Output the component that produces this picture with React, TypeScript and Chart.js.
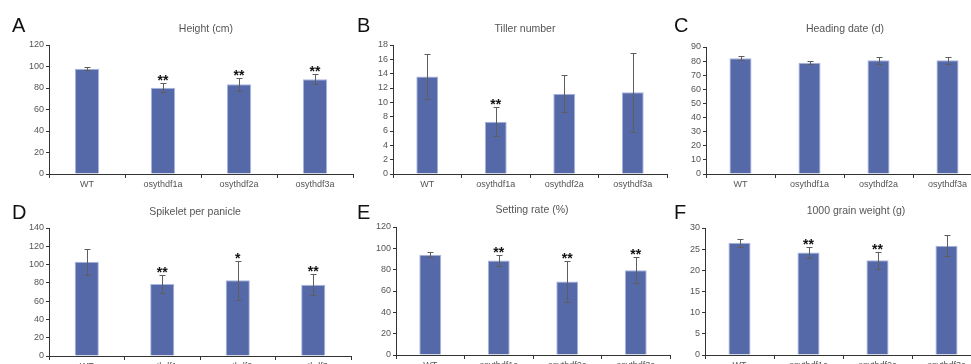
import React, { useEffect, useRef } from "react";
import { Chart, registerables } from "chart.js";

Chart.register(...registerables);

const categories = ["WT", "osythdf1a", "osythdf2a", "osythdf3a"];

const heightMean = [98, 80.3, 83.5, 88.2];
const heightErr = [1.4, 4, 6.2, 4.5];
const heightSig = ["", "**", "**", "**"];

const tillerMean = [13.6, 7.3, 11.2, 11.4];
const tillerErr = [3.1, 2, 2.55, 5.5];
const tillerSig = ["", "**", "", ""];

const headingMean = [82, 78.9, 80.6, 80.6];
const headingErr = [1.5, 1, 2.4, 2.4];
const headingSig = ["", "", "", ""];

const spikeletMean = [103, 78.8, 82.8, 78];
const spikeletErr = [14.3, 9.5, 21.6, 11.5];
const spikeletSig = ["", "**", "*", "**"];

const settingMean = [94.1, 88.5, 68.9, 79.5];
const settingErr = [2, 5.1, 19.5, 12];
const settingSig = ["", "**", "**", "**"];

const grainMean = [26.5, 24.2, 22.4, 25.8];
const grainErr = [0.9, 1.2, 2, 2.5];
const grainSig = ["", "**", "**", ""];

type Panel = {
  letter: string;
  title: string;
  values: number[];
  errors: number[];
  sig: string[];
  yMax: number;
  step: number;
  axisX: number;
  axisEnd: number;
  topY: number;
  zeroY: number;
  rowTop: number;
  rowBottom: number;
  titleX: number;
  titleY: number;
  letterX: number;
  letterY: number;
};

const panels: Panel[] = [
  { letter: "A", title: "Height (cm)", values: heightMean, errors: heightErr, sig: heightSig, yMax: 120, step: 20,
    axisX: 49, axisEnd: 353, topY: 45, zeroY: 174, rowTop: 0, rowBottom: 195, titleX: 206, titleY: 28, letterX: 12, letterY: 25 },
  { letter: "B", title: "Tiller number", values: tillerMean, errors: tillerErr, sig: tillerSig, yMax: 18, step: 2,
    axisX: 393, axisEnd: 667, topY: 45, zeroY: 174, rowTop: 0, rowBottom: 195, titleX: 525, titleY: 28, letterX: 357, letterY: 25 },
  { letter: "C", title: "Heading date (d)", values: headingMean, errors: headingErr, sig: headingSig, yMax: 90, step: 10,
    axisX: 706, axisEnd: 982, topY: 47, zeroY: 174, rowTop: 0, rowBottom: 195, titleX: 845, titleY: 28, letterX: 674, letterY: 25 },
  { letter: "D", title: "Spikelet per panicle", values: spikeletMean, errors: spikeletErr, sig: spikeletSig, yMax: 140, step: 20,
    axisX: 49, axisEnd: 351, topY: 228, zeroY: 356, rowTop: 190, rowBottom: 385, titleX: 195, titleY: 211, letterX: 12, letterY: 212 },
  { letter: "E", title: "Setting rate (%)", values: settingMean, errors: settingErr, sig: settingSig, yMax: 120, step: 20,
    axisX: 396, axisEnd: 670, topY: 227, zeroY: 355, rowTop: 190, rowBottom: 385, titleX: 532, titleY: 209, letterX: 357, letterY: 212 },
  { letter: "F", title: "1000 grain weight (g)", values: grainMean, errors: grainErr, sig: grainSig, yMax: 30, step: 5,
    axisX: 705, axisEnd: 981, topY: 228, zeroY: 355, rowTop: 190, rowBottom: 385, titleX: 856, titleY: 210, letterX: 674, letterY: 212 },
];

const errorBarPlugin = {
  id: "errorBars",
  afterDatasetsDraw(chart: any, _args: any, opts: any) {
    const { ctx } = chart;
    const meta = chart.getDatasetMeta(0);
    const ys = chart.scales.y;
    const data = chart.data.datasets[0].data as number[];
    const errs: number[] = opts.errors || [];
    const sig: string[] = opts.sig || [];
    ctx.save();
    meta.data.forEach((bar: any, i: number) => {
      const v = data[i];
      const e = errs[i] || 0;
      const x = Math.round(bar.x) + 0.5;
      const yTop = Math.round(ys.getPixelForValue(v + e)) + 0.5;
      const yBot = Math.round(ys.getPixelForValue(v - e)) + 0.5;
      ctx.strokeStyle = "#5e5e5e";
      ctx.lineWidth = 1;
      ctx.beginPath();
      ctx.moveTo(x, yTop);
      ctx.lineTo(x, yBot);
      ctx.moveTo(x - 3, yTop);
      ctx.lineTo(x + 3, yTop);
      ctx.moveTo(x - 3, yBot);
      ctx.lineTo(x + 3, yBot);
      ctx.stroke();
      if (sig[i]) {
        ctx.font = 'bold 14px "Liberation Sans", Arial, sans-serif';
        ctx.fillStyle = "#111111";
        ctx.textAlign = "center";
        ctx.textBaseline = "alphabetic";
        const m = ctx.measureText(sig[i]);
        const descent = m.actualBoundingBoxDescent || 0;
        ctx.fillText(sig[i], bar.x, yTop - 3 - descent);
      }
    });
    ctx.restore();
  },
};

const tickFont = { family: '"Liberation Sans", Arial, sans-serif', size: 9 };

function PanelChart({ p }: { p: Panel }) {
  const ref = useRef<HTMLCanvasElement>(null);
  const left = p.axisX - 45;
  const width = p.axisEnd - left + 10;
  const height = p.rowBottom - p.rowTop;
  useEffect(() => {
    if (!ref.current) return;
    const chart = new Chart(ref.current, {
      type: "bar",
      data: {
        labels: categories,
        datasets: [
          {
            data: p.values,
            backgroundColor: "#5568a8",
            borderColor: "#a9b6e0",
            borderWidth: 1,
            categoryPercentage: 1,
            barPercentage: 0.32,
          },
        ],
      },
      options: {
        animation: false,
        responsive: false,
        maintainAspectRatio: false,
        layout: { padding: { top: p.topY - p.rowTop, right: 10, left: 0, bottom: 0 } },
        plugins: {
          legend: { display: false },
          tooltip: { enabled: false },
          title: { display: false },
          errorBars: { errors: p.errors, sig: p.sig },
        } as any,
        scales: {
          x: {
            offset: true,
            grid: { display: true, drawOnChartArea: false, offset: true, tickLength: 4, color: "#333333" },
            border: { display: true, color: "#333333", width: 1 },
            ticks: { color: "#555555", font: tickFont, padding: 1, maxRotation: 0, autoSkip: false },
            afterFit: (s: any) => {
              s.height = p.rowBottom - p.zeroY;
            },
          },
          y: {
            min: 0,
            max: p.yMax,
            grid: { display: true, drawOnChartArea: false, tickLength: 3, color: "#333333" },
            border: { display: true, color: "#333333", width: 1 },
            ticks: { stepSize: p.step, color: "#555555", font: tickFont, padding: 2 },
            afterFit: (s: any) => {
              s.width = p.axisX - left;
            },
          },
        },
      },
      plugins: [errorBarPlugin],
    } as any);
    return () => chart.destroy();
  }, []);
  return (
    <canvas
      ref={ref}
      width={width}
      height={height}
      style={{ position: "absolute", left, top: p.rowTop, width, height }}
    />
  );
}

export default function App() {
  return (
    <div
      style={{
        position: "fixed",
        left: 0,
        top: 0,
        width: 971,
        height: 364,
        overflow: "hidden",
        background: "#ffffff",
        fontFamily: '"Liberation Sans", Arial, sans-serif',
      }}
    >
      {panels.map((p) => (
        <PanelChart key={p.letter} p={p} />
      ))}
      {panels.map((p) => (
        <div
          key={"t" + p.letter}
          style={{
            position: "absolute",
            left: p.titleX - 120,
            width: 240,
            top: p.titleY - 7,
            lineHeight: "14px",
            fontSize: 10.5,
            color: "#555555",
            textAlign: "center",
            whiteSpace: "nowrap",
          }}
        >
          {p.title}
        </div>
      ))}
      {panels.map((p) => (
        <div
          key={"l" + p.letter}
          style={{
            position: "absolute",
            left: p.letterX,
            top: p.letterY - 11,
            lineHeight: "22px",
            fontSize: 20,
            color: "#111111",
          }}
        >
          {p.letter}
        </div>
      ))}
    </div>
  );
}
